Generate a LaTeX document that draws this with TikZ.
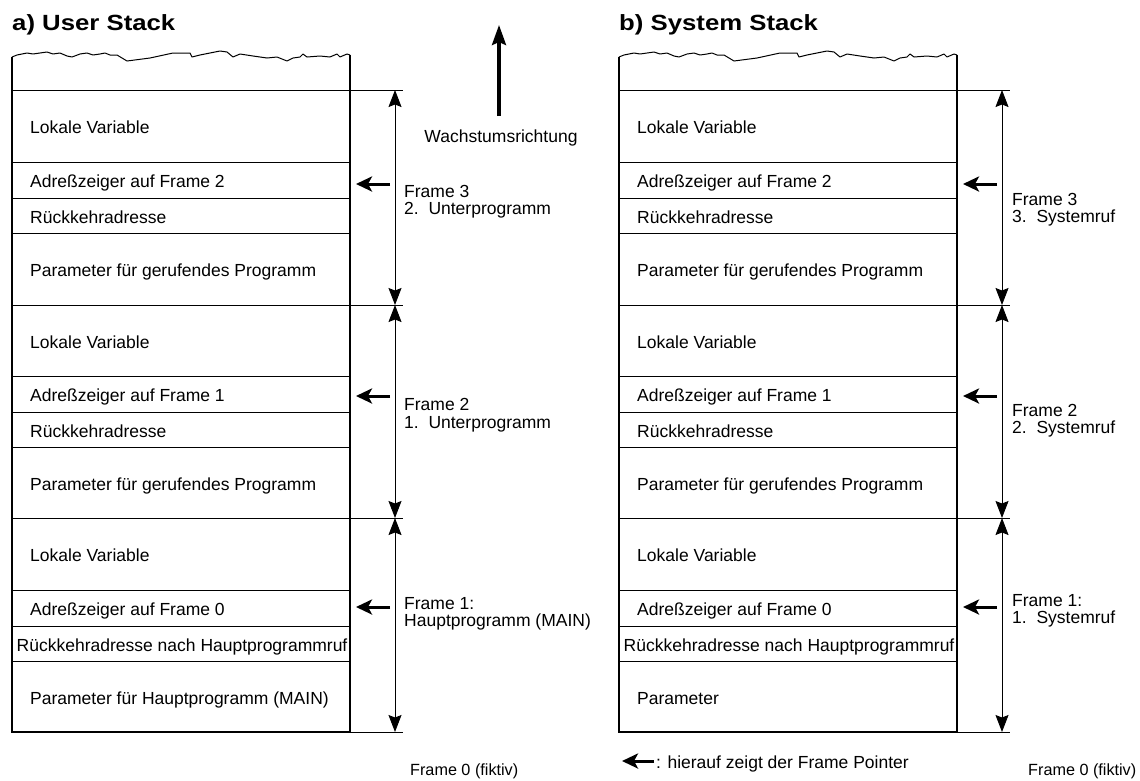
\documentclass[tikz,border=0pt]{standalone}
\usepackage{fontspec}
\setmainfont{Liberation Sans}
\usetikzlibrary{arrows.meta}
\newcommand\fs{\fontsize{17.5}{17.5}\selectfont}
\newcommand\fsmall{\fontsize{16.2}{16.2}\selectfont}
\newcommand\ttl{\fontsize{22}{22}\selectfont\bfseries}
\tikzset{
  stackedge/.style={line width=1.8pt},
  rowline/.style={line width=0.8pt},
  wavy/.style={line width=1pt, line join=round},
  dimarrow/.style={line width=0.9pt, {Stealth[length=17pt,width=13pt,inset=2.5pt]}-{Stealth[length=17pt,width=13pt,inset=2.5pt]}},
  ptrarrow/.style={line width=3pt, -{Stealth[length=16pt,width=15pt,inset=4pt]}},
  growarrow/.style={line width=3.4pt, -{Stealth[length=20pt,width=14pt,inset=3pt]}},
  celltext/.style={anchor=base west, inner sep=0pt, font=\fs},
  titletext/.style={anchor=base west, inner sep=0pt, font=\ttl},
}
\begin{document}
\begin{tikzpicture}[x=1pt,y=-1pt]
\useasboundingbox (0,0) rectangle (1140,780);

% titles
\node[titletext] (ta) at (12,30) {\scalebox{1.17}[1]{a) User Stack}};
\node[titletext] (tb) at (619,30) {\scalebox{1.17}[1]{b) System Stack}};

% two stacks
\foreach \s/\dx in {L/0,R/607}{
  \begin{scope}[xshift=\dx pt]
    % wavy top
    \draw[wavy] plot coordinates {(12,57) (17,55) (27,53) (33,54) (47,52) (53,54) (60,53) (67,56) (72,57) (80,54) (87,53) (93,55) (100,54) (105,53) (110,55) (117,55) (127,61) (150,58) (173,53) (190,53) (192,57) (200,55) (220,51) (227,52) (233,57) (240,54) (253,56) (267,58) (277,57) (287,61) (293,58) (300,57) (303,54) (307,57) (320,56) (330,57) (337,54) (340,57) (347,54) (350,55)};
    % side edges and bottom
    \draw[stackedge] (12,57) -- (12,732) -- (350,732) -- (350,55);
    % inner row lines
    \foreach \y in {162,198,233,376,412,447,590,626,661}
      \draw[rowline] (12,\y) -- (350,\y);
    % frame boundaries (extend to dimension line)
    \foreach \y in {90,305,518,732}
      \draw[rowline] (12,\y) -- (403,\y);
    % coordinates for dimension arrows
    \coordinate (\s b0) at (395,90);
    \coordinate (\s b1) at (395,305);
    \coordinate (\s b2) at (395,518);
    \coordinate (\s b3) at (395,732);
    \draw[dimarrow] (\s b0) -- (\s b1);
    \draw[dimarrow] (\s b1) -- (\s b2);
    \draw[dimarrow] (\s b2) -- (\s b3);
    % frame pointer arrows
    \foreach \k/\y in {3/184,2/396,1/607}{
      \coordinate (\s p\k s) at (390,\y);
      \coordinate (\s p\k e) at (356,\y);
      \draw[ptrarrow] (\s p\k s) -- (\s p\k e);
    }
    % common cell texts
    \node[celltext] (\s 1) at (30,133.5) {Lokale Variable};
    \node[celltext] (\s 2) at (30,187.5) {Adreßzeiger auf Frame 2};
    \node[celltext] (\s 3) at (30,223) {Rückkehradresse};
    \node[celltext] (\s 4) at (30,276.5) {Parameter für gerufendes Programm};
    \node[celltext] (\s 5) at (30,348) {Lokale Variable};
    \node[celltext] (\s 6) at (30,401.5) {Adreßzeiger auf Frame 1};
    \node[celltext] (\s 7) at (30,437) {Rückkehradresse};
    \node[celltext] (\s 8) at (30,490) {Parameter für gerufendes Programm};
    \node[celltext] (\s 9) at (30,561.5) {Lokale Variable};
    \node[celltext] (\s 10) at (30,615.5) {Adreßzeiger auf Frame 0};
    \node[celltext] (\s 11) at (16.5,651) {Rückkehradresse nach Hauptprogrammruf};
  \end{scope}
}

% bottom cells
\node[celltext] (L12) at (30,704.5) {Parameter für Hauptprogramm (MAIN)};
\node[celltext] (R12) at (637,704.5) {Parameter};

% frame labels left
\node[celltext] (LF3a) at (404,197) {Frame 3};
\node[celltext] (LF3b) at (404,214) {2.~~Unterprogramm};
\node[celltext] (LF2a) at (404,410) {Frame 2};
\node[celltext] (LF2b) at (404,428) {1.~~Unterprogramm};
\node[celltext] (LF1a) at (404,609) {Frame 1:};
\node[celltext] (LF1b) at (404,626) {Hauptprogramm (MAIN)};

% frame labels right
\node[celltext] (RF3a) at (1012,205) {Frame 3};
\node[celltext] (RF3b) at (1012,222) {3.~~Systemruf};
\node[celltext] (RF2a) at (1012,416) {Frame 2};
\node[celltext] (RF2b) at (1012,433) {2.~~Systemruf};
\node[celltext] (RF1a) at (1012,606) {Frame 1:};
\node[celltext] (RF1b) at (1012,623) {1.~~Systemruf};

% growth direction
\coordinate (g0) at (499,116);
\coordinate (g1) at (499,25);
\draw[growarrow] (g0) -- (g1);
\node[anchor=base, inner sep=0pt, font=\fs] (grow) at (501,142) {Wachstumsrichtung};

% frame 0 labels
\node[celltext, font=\fsmall] (F0L) at (410,775) {Frame 0 (fiktiv)};
\node[celltext, font=\fsmall] (F0R) at (1028,775) {Frame 0 (fiktiv)};

% legend
\coordinate (lg0) at (654,761);
\coordinate (lg1) at (622,761);
\draw[ptrarrow] (lg0) -- (lg1);
\node[celltext] (leg) at (656,768) {: hierauf zeigt der Frame Pointer};
\end{tikzpicture}
\end{document}
